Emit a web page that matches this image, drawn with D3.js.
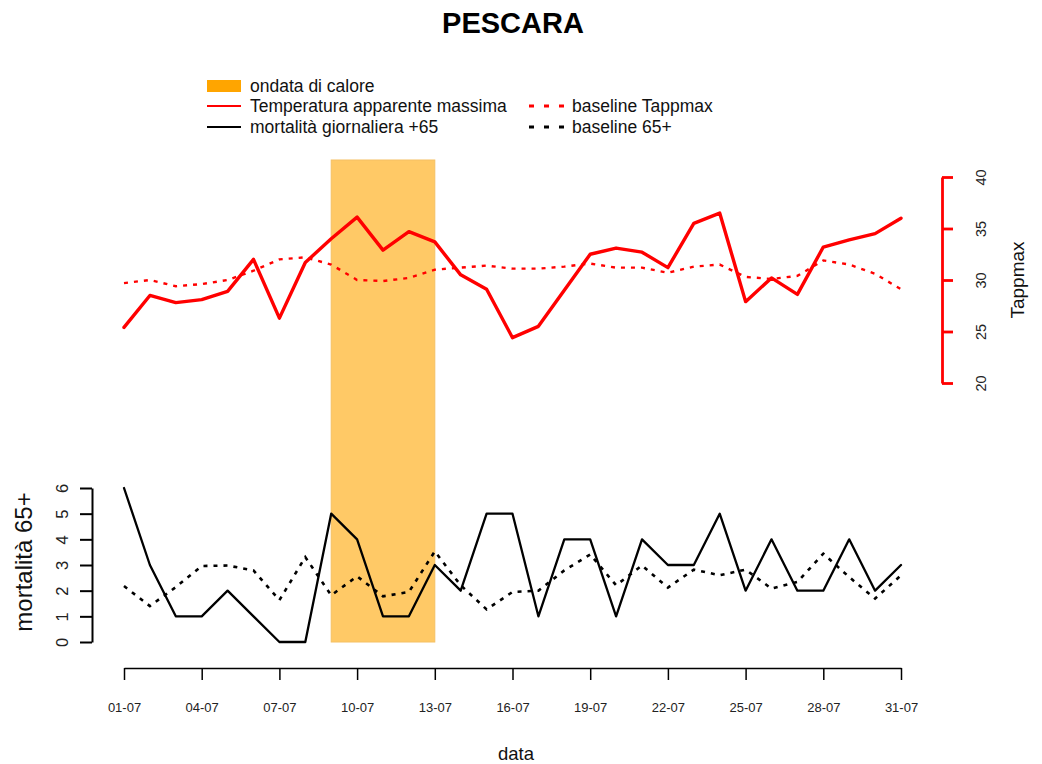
<!DOCTYPE html>
<html><head><meta charset="utf-8">
<script src="https://cdn.jsdelivr.net/npm/d3@7"></script>
<style>
body{margin:0;background:#fff}
svg{display:block}
text{font-family:"Liberation Sans",Arial,Helvetica,sans-serif}
</style>
</head><body>
<svg id="chart" width="1042" height="764"></svg>
<script>
// ---------- data ----------
const dates = ["01-07","02-07","03-07","04-07","05-07","06-07","07-07","08-07","09-07","10-07",
  "11-07","12-07","13-07","14-07","15-07","16-07","17-07","18-07","19-07","20-07",
  "21-07","22-07","23-07","24-07","25-07","26-07","27-07","28-07","29-07","30-07","31-07"];
const tappmax = [25.4,28.5,27.8,28.1,28.9,32.0,26.3,31.7,34.0,36.1,
  32.9,34.7,33.7,30.5,29.1,24.4,25.5,29.0,32.5,33.1,
  32.7,31.2,35.5,36.5,27.9,30.2,28.6,33.2,33.9,34.5,36.0];
const baselineTappmax = [29.7,30.0,29.4,29.6,30.0,30.9,32.0,32.2,31.5,30.0,
  29.9,30.2,31.0,31.2,31.4,31.1,31.1,31.3,31.6,31.2,
  31.2,30.7,31.3,31.5,30.3,30.1,30.4,31.9,31.5,30.6,29.1];
const mortality = [6,3,1,1,2,1,0,0,5,4,
  1,1,3,2,5,5,1,4,4,1,
  4,3,3,5,2,4,2,2,4,2,3];
const baselineMortality = [2.18,1.40,2.14,2.96,2.98,2.79,1.63,3.31,1.82,2.56,
  1.78,1.95,3.53,2.21,1.27,1.95,2.00,2.79,3.41,2.21,
  2.98,2.12,2.82,2.60,2.82,2.08,2.34,3.44,2.53,1.69,2.60];
const heatwave = ["09-07","13-07"];
const xTickLabels = ["01-07","04-07","07-07","10-07","13-07","16-07","19-07","22-07","25-07","28-07","31-07"];
const tempTicks = [20,25,30,35,40];
const mortTicks = [0,1,2,3,4,5,6];
const legendItems = [
  {label:"ondata di calore", type:"rect"},
  {label:"Temperatura apparente massima", type:"solidRed"},
  {label:"mortalità giornaliera +65", type:"solidBlack"},
  {label:"baseline Tappmax", type:"dotRed"},
  {label:"baseline 65+", type:"dotBlack"}
];

// ---------- layout ----------
const svg = d3.select("#chart");
const RED = "#ff0000", ORANGE = "#ffa500", BAND = "#ffc966";
const x = d3.scalePoint().domain(dates).range([124, 901]);
const yT = d3.scaleLinear().domain([20, 40]).range([383, 177]);
const yM = d3.scaleLinear().domain([0, 6]).range([642, 488]);

// heat wave band
svg.append("rect")
  .attr("x", x(heatwave[0])).attr("width", x(heatwave[1]) - x(heatwave[0]))
  .attr("y", 160).attr("height", yM(0) - 160)
  .attr("fill", BAND).attr("stroke", "#f5c063").attr("stroke-width", 1);

// lines
const idx = dates.map((d, i) => i);
const lineT = arr => d3.line().x(i => x(dates[i])).y(i => yT(arr[i]));
const lineM = arr => d3.line().x(i => x(dates[i])).y(i => yM(arr[i]));

svg.append("path").attr("d", lineT(baselineTappmax)(idx))
  .attr("fill","none").attr("stroke",RED).attr("stroke-width",2.4)
  .attr("stroke-dasharray","4,6");
svg.append("path").attr("d", lineT(tappmax)(idx))
  .attr("fill","none").attr("stroke",RED).attr("stroke-width",3.4)
  .attr("stroke-linejoin","round").attr("stroke-linecap","round");
svg.append("path").attr("d", lineM(baselineMortality)(idx))
  .attr("fill","none").attr("stroke","#000").attr("stroke-width",2.6)
  .attr("stroke-dasharray","4,6");
svg.append("path").attr("d", lineM(mortality)(idx))
  .attr("fill","none").attr("stroke","#000").attr("stroke-width",2.3)
  .attr("stroke-linejoin","round").attr("stroke-linecap","round");

// x axis
const gx = svg.append("g").attr("transform","translate(0,668)")
  .call(d3.axisBottom(x).tickValues(xTickLabels).tickSize(12).tickSizeOuter(0).tickPadding(23));
gx.select(".domain").attr("stroke","#000").attr("stroke-width",1.5);
gx.selectAll(".tick line").attr("stroke","#000").attr("stroke-width",1.5);
gx.selectAll(".tick text").attr("font-size",13).attr("fill","#222")
  .attr("font-family",'"Liberation Sans",Arial,sans-serif');

// right axis (temperature)
const gr = svg.append("g").attr("transform","translate(942,0)")
  .call(d3.axisRight(yT).tickValues(tempTicks).tickFormat(d3.format("d")).tickSize(11).tickSizeOuter(0));
gr.select(".domain").attr("stroke",RED).attr("stroke-width",2.8);
gr.selectAll(".tick line").attr("stroke",RED).attr("stroke-width",2.8);
gr.selectAll(".tick text").attr("x",0).attr("dy",0).attr("y",0)
  .attr("text-anchor","middle").attr("transform","translate(44,0) rotate(-90)")
  .attr("font-size",14.5).attr("fill","#222")
  .attr("font-family",'"Liberation Sans",Arial,sans-serif');

// left axis (mortality)
const gl = svg.append("g").attr("transform","translate(92,0)")
  .call(d3.axisLeft(yM).tickValues(mortTicks).tickFormat(d3.format("d")).tickSize(12).tickSizeOuter(0));
gl.select(".domain").attr("stroke","#000").attr("stroke-width",2);
gl.selectAll(".tick line").attr("stroke","#000").attr("stroke-width",2);
gl.selectAll(".tick text").attr("x",0).attr("dy",0).attr("y",0)
  .attr("text-anchor","middle").attr("transform","translate(-24,0) rotate(-90)")
  .attr("font-size",16.5).attr("fill","#222")
  .attr("font-family",'"Liberation Sans",Arial,sans-serif');

// titles
svg.append("text").attr("x",513).attr("y",33).attr("text-anchor","middle")
  .attr("font-size",29).attr("font-weight","bold").attr("fill","#000").text("PESCARA");
svg.append("text").attr("x",516).attr("y",760).attr("text-anchor","middle")
  .attr("font-size",18.5).attr("fill","#111").text("data");
svg.append("text").attr("transform","translate(1024,280) rotate(-90)").attr("text-anchor","middle")
  .attr("font-size",19).attr("fill","#111").text("Tappmax");
svg.append("text").attr("transform","translate(32,562) rotate(-90)").attr("text-anchor","middle")
  .attr("font-size",24).attr("fill","#111").text("mortalità 65+");

// legend
const rowY = [86, 106, 127];
const lg = svg.append("g");
legendItems.forEach(it => {
  let sx, tx, ry;
  if (it.type === "rect") { sx = 207; tx = 250; ry = rowY[0]; }
  else if (it.type === "solidRed") { sx = 207; tx = 250; ry = rowY[1]; }
  else if (it.type === "solidBlack") { sx = 207; tx = 250; ry = rowY[2]; }
  else if (it.type === "dotRed") { sx = 529; tx = 572; ry = rowY[1]; }
  else { sx = 529; tx = 572; ry = rowY[2]; }
  if (it.type === "rect") {
    lg.append("rect").attr("x",sx).attr("y",ry-6).attr("width",34).attr("height",12).attr("fill",ORANGE);
  } else {
    const col = (it.type === "solidRed" || it.type === "dotRed") ? RED : "#000";
    const dotted = it.type.startsWith("dot");
    lg.append("line").attr("x1",sx).attr("x2",dotted ? sx+37 : sx+34).attr("y1",ry).attr("y2",ry)
      .attr("stroke",col).attr("stroke-width", dotted ? 3 : 2)
      .attr("stroke-dasharray", dotted ? "5,10" : null);
  }
  lg.append("text").attr("x",tx).attr("y",ry+6).attr("font-size",17.5).attr("fill","#111").text(it.label);
});
</script>
</body></html>
